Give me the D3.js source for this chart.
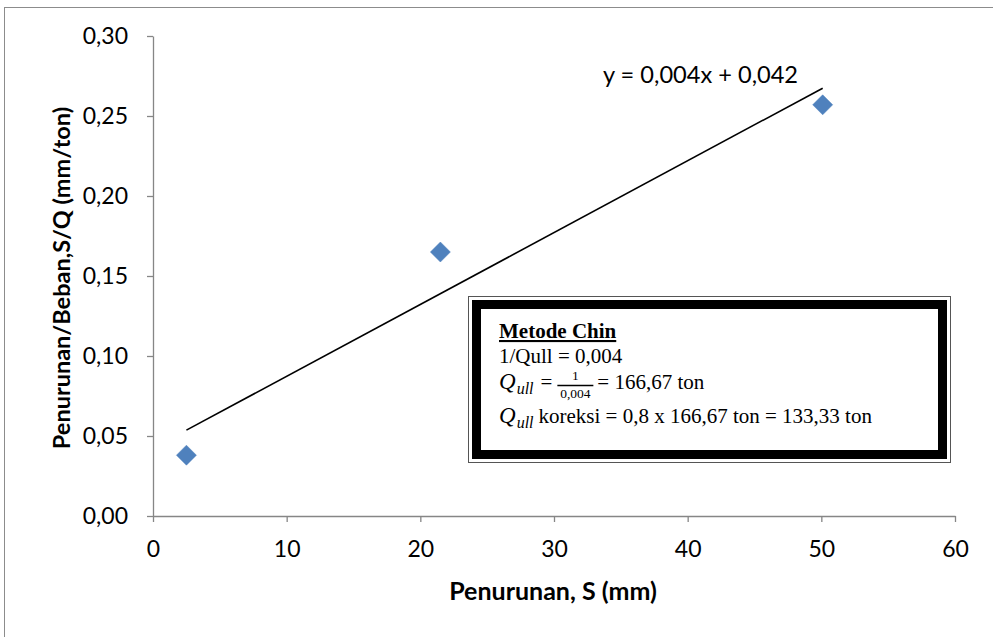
<!DOCTYPE html>
<html><head><meta charset="utf-8">
<script src="https://cdn.jsdelivr.net/npm/d3@7"></script>
<style>body{margin:0;background:#fff}svg{display:block}</style>
</head><body>
<svg id="c" width="993" height="637"></svg>
<script>
// ---- data ----
const xTicks = [0, 10, 20, 30, 40, 50, 60];
const yTicks = [0, 0.05, 0.10, 0.15, 0.20, 0.25, 0.30];
const settlement = [2.5, 21.5, 50.1];          // S (mm)
const ratio = [0.038, 0.165, 0.257];           // S/Q (mm/ton)
const xTitle = "Penurunan, S (mm)";
const yTitle = "Penurunan/Beban,S/Q (mm/ton)";
const trendLabel = "y = 0,004x + 0,042";
const boxTitle = "Metode Chin";
const boxLine2 = "1/Qull = 0,004";
const fracNum = "1", fracDen = "0,004";
const boxLine3Tail = "= 166,67 ton";
const boxLine4Tail = "koreksi = 0,8 x 166,67 ton = 133,33 ton";

const svg = d3.select("#c");
const sans = "Lato, 'Open Sans', sans-serif";
const serif = "'Liberation Serif', 'Times New Roman', serif";
const axisCol = "#868686";

// outer chart frame
svg.append("rect").attr("x", 4.5).attr("y", 7.5).attr("width", 1100).attr("height", 800)
  .attr("fill", "none").attr("stroke", "#8c8c8c").attr("stroke-width", 1);

const x = d3.scaleLinear().domain([0, 60]).range([153, 955]);
const y = d3.scaleLinear().domain([0, 0.30]).range([516, 36]);
const fmt = d => d3.format(".2f")(d).replace(".", ",");

// axes
const gy = svg.append("g").attr("transform", `translate(${x(0)},0)`)
  .call(d3.axisLeft(y).tickValues(yTicks).tickSize(6).tickSizeOuter(0).tickPadding(19).tickFormat(fmt));
const gx = svg.append("g").attr("transform", `translate(0,${y(0)})`)
  .call(d3.axisBottom(x).tickValues(xTicks).tickSize(6).tickSizeOuter(0).tickPadding(19).tickFormat(d3.format("d")));
[gx, gy].forEach(g => {
  g.selectAll("path,line").attr("stroke", axisCol).attr("stroke-width", 1.3);
  g.selectAll("text").attr("fill", "#000").style("font-family", sans).style("font-size", "23px");
});

// axis titles
svg.append("text").attr("x", 553).attr("y", 600).attr("text-anchor", "middle")
  .style("font-family", sans).style("font-size", "25px").style("font-weight", "bold").text(xTitle);
svg.append("text").attr("transform", "translate(70,278) rotate(-90)").attr("text-anchor", "middle")
  .style("font-family", sans).style("font-size", "23.5px").style("font-weight", "bold").text(yTitle);

// trendline (least squares through data)
const mx = d3.mean(settlement), my = d3.mean(ratio);
const slope = d3.sum(settlement.map((v, i) => (v - mx) * (ratio[i] - my))) / d3.sum(settlement.map(v => (v - mx) ** 2));
const icpt = my - slope * mx;
const xs = d3.extent(settlement);
svg.append("path").datum(xs)
  .attr("d", d3.line().x(d => x(d)).y(d => y(icpt + slope * d)))
  .attr("stroke", "#000").attr("stroke-width", 1.6).attr("fill", "none");

svg.append("text").attr("x", 603).attr("y", 83).style("font-family", sans).style("font-size", "23.6px")
  .text(trendLabel);

// markers (diamonds)
const pts = settlement.map((v, i) => [v, ratio[i]]);
const R = 10;
svg.selectAll("path.pt").data(pts).enter().append("path").attr("class", "pt")
  .attr("d", d => { const cx = x(d[0]), cy = y(d[1]); return `M${cx},${cy - R}L${cx + R},${cy}L${cx},${cy + R}L${cx - R},${cy}Z`; })
  .attr("fill", "#4F81BD").attr("stroke", "#4A7EBB").attr("stroke-width", 0.5);

// annotation box
svg.append("rect").attr("x", 468.5).attr("y", 296.5).attr("width", 482).attr("height", 166)
  .attr("fill", "#fff").attr("stroke", "#555").attr("stroke-width", 1);
svg.append("rect").attr("x", 476.5).attr("y", 304.5).attr("width", 466).attr("height", 150)
  .attr("fill", "#fff").attr("stroke", "#000").attr("stroke-width", 9);

const tx = 499;
svg.append("text").attr("x", tx).attr("y", 338).style("font-family", serif).style("font-size", "21px")
  .style("font-weight", "bold").style("text-decoration", "underline").text(boxTitle);
svg.append("text").attr("x", tx).attr("y", 363).style("font-family", serif).style("font-size", "21px").text(boxLine2);

function qull(yb) {
  const q = svg.append("text").attr("x", tx).attr("y", yb).style("font-family", serif).style("font-size", "23px")
    .style("font-style", "italic").text("Q");
  const w = q.node().getComputedTextLength();
  const s = svg.append("text").attr("x", tx + w + 1).attr("y", yb + 5).style("font-family", serif).style("font-size", "16px")
    .style("font-style", "italic").text("ull");
  return tx + w + 1 + s.node().getComputedTextLength();
}
// line 3
let e3 = qull(389);
const eq = svg.append("text").attr("x", e3 + 7).attr("y", 389).style("font-family", serif).style("font-size", "21px").text("=");
let fx0 = e3 + 7 + eq.node().getComputedTextLength() + 5;
const fw = 36;
svg.append("line").attr("x1", fx0).attr("x2", fx0 + fw).attr("y1", 385.5).attr("y2", 385.5).attr("stroke", "#000").attr("stroke-width", 1.4);
svg.append("text").attr("x", fx0 + fw / 2).attr("y", 380).attr("text-anchor", "middle").style("font-family", serif).style("font-size", "13.5px").text(fracNum);
svg.append("text").attr("x", fx0 + fw / 2).attr("y", 398).attr("text-anchor", "middle").style("font-family", serif).style("font-size", "13.5px").text(fracDen);
svg.append("text").attr("x", fx0 + fw + 4).attr("y", 389).style("font-family", serif).style("font-size", "21px").text(boxLine3Tail);
// line 4
let e4 = qull(423);
svg.append("text").attr("x", e4 + 5).attr("y", 423).style("font-family", serif).style("font-size", "21px").text(boxLine4Tail);
</script>
</body></html>
